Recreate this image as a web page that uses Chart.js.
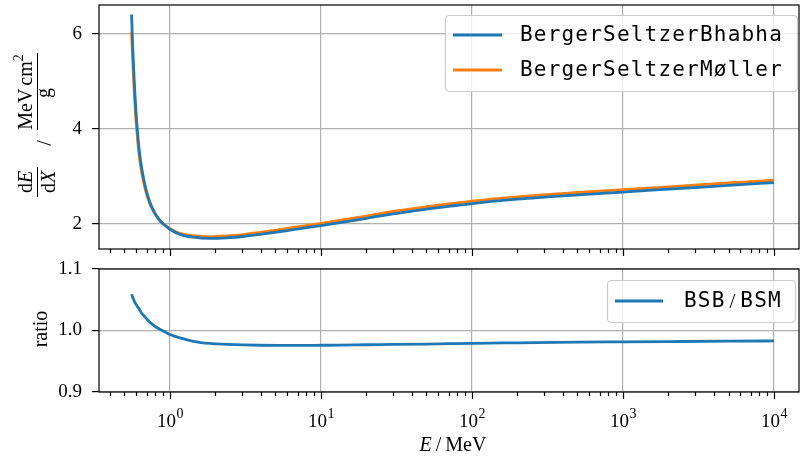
<!DOCTYPE html>
<html>
<head>
<meta charset="utf-8">
<script src="https://cdn.jsdelivr.net/npm/chart.js@4.4.1/dist/chart.umd.min.js"></script>
<style>
    html, body { margin: 0; padding: 0; background: #ffffff; }
    #wrap { position: relative; width: 800px; height: 464px; }
    #graficoTopo { position: absolute; left: 0; top: 0; }
    #graficoRazao { position: absolute; left: 0; top: 260px; }
</style>
</head>
<body>
<div id="wrap">
    <canvas id="graficoTopo" width="800" height="260"></canvas>
    <canvas id="graficoRazao" width="800" height="204"></canvas>
</div>
<script>
// energy in MeV, stopping power in MeV cm^2 / g
const energy = [0.557, 0.564, 0.571, 0.578, 0.585, 0.593, 0.602, 0.613, 0.625, 0.650, 0.69, 0.737, 0.80, 0.858, 0.93, 1.0, 1.165, 1.43, 1.84, 2.37, 3.06, 3.95, 5.09, 6.56, 10, 13.3, 20, 30, 50, 70, 100, 200, 500, 1000, 2000, 5000, 10000];
const bhabha = [6.41, 5.91, 5.49, 5.12, 4.79, 4.46, 4.16, 3.85, 3.57, 3.17, 2.76, 2.45, 2.21, 2.07, 1.965, 1.887, 1.778, 1.719, 1.694, 1.706, 1.733, 1.776, 1.825, 1.878, 1.962, 2.026, 2.115, 2.209, 2.308, 2.368, 2.428, 2.519, 2.609, 2.670, 2.730, 2.810, 2.870];
const moller = [6.05, 5.60, 5.22, 4.88, 4.58, 4.27, 4.00, 3.71, 3.45, 3.08, 2.70, 2.42, 2.20, 2.07, 1.97, 1.90, 1.80, 1.75, 1.73, 1.745, 1.775, 1.82, 1.87, 1.925, 2.01, 2.075, 2.165, 2.26, 2.36, 2.42, 2.48, 2.57, 2.66, 2.72, 2.78, 2.86, 2.92];
const ratio = [1.059, 1.0555, 1.052, 1.049, 1.046, 1.0435, 1.041, 1.038, 1.035, 1.028, 1.021, 1.0135, 1.0065, 1.002, 0.9975, 0.9934, 0.988, 0.9825, 0.979, 0.9775, 0.9765, 0.976, 0.9758, 0.9758, 0.976, 0.9762, 0.9768, 0.9773, 0.978, 0.9786, 0.9792, 0.980, 0.981, 0.9815, 0.982, 0.9826, 0.983];

const seriesLabels = ['BergerSeltzerBhabha', 'BergerSeltzerMøller'];
const ratioLabel = ['BSB', 'BSM'];
const xDecades = [1, 10, 100, 1000, 10000];
const xExponents = ['0', '1', '2', '3', '4'];
const yTicksTopo = [2, 4, 6];
const yTicksRazao = [0.9, 1.0, 1.1];

const azul = '#1f77b4';
const laranja = '#ff7f0e';
const grade = '#b0b0b0';
const serif = '"Liberation Serif", "DejaVu Serif", serif';
const mono = '"DejaVu Sans Mono", monospace';
const xMin = 0.339;
const xMax = 14650;

function pontos(ys) {
    return energy.map((e, i) => ({ x: e, y: ys[i] }));
}

function semPadding(s) {
    s.paddingTop = 0;
    s.paddingBottom = 0;
    s.paddingLeft = 0;
    s.paddingRight = 0;
}

function eixoX() {
    return {
        type: 'logarithmic',
        min: xMin,
        max: xMax,
        bounds: 'data',
        afterBuildTicks: (s) => {
            s.ticks = xDecades.map(v => ({ value: v }));
            s.min = xMin;
            s.max = xMax;
        },
        afterFit: (s) => { s.height = 0; semPadding(s); },
        ticks: { display: false },
        grid: { color: grade, lineWidth: 1.2, drawTicks: false },
        border: { display: false }
    };
}

function eixoY(min, max, ticks, fmt) {
    return {
        type: 'linear',
        min: min,
        max: max,
        afterBuildTicks: (s) => { s.ticks = ticks.map(v => ({ value: v })); },
        afterFit: (s) => { s.width = 99; semPadding(s); },
        ticks: {
            color: '#000',
            padding: 10,
            font: { family: serif, size: 19 },
            callback: fmt
        },
        grid: { color: grade, lineWidth: 1.2, tickLength: 7, tickColor: '#000', tickWidth: 1.2 },
        border: { display: false }
    };
}

// frame + x tick marks (minor ticks too)
const molduraPlugin = {
    id: 'moldura',
    afterDraw(chart) {
        const ctx = chart.ctx;
        const a = chart.chartArea;
        const x = chart.scales.x;
        ctx.save();
        ctx.strokeStyle = '#000';
        ctx.lineWidth = 1.2;
        ctx.beginPath();
        for (let d = -1; d <= 4; d++) {
            for (let k = 1; k <= 9; k++) {
                const v = k * Math.pow(10, d);
                if (v < xMin || v > xMax) continue;
                const px = Math.round(x.getPixelForValue(v)) + 0.5;
                ctx.moveTo(px, a.bottom);
                ctx.lineTo(px, a.bottom + (k === 1 ? 7 : 4));
            }
        }
        ctx.stroke();
        ctx.strokeRect(a.left, a.top, a.right - a.left, a.bottom - a.top);
        ctx.restore();
    }
};

function caixaLegenda(ctx, x0, y0, x1, y1) {
    ctx.save();
    ctx.beginPath();
    ctx.roundRect(x0 + 0.5, y0 + 0.5, x1 - x0, y1 - y0, 4);
    ctx.fillStyle = 'rgba(255,255,255,0.8)';
    ctx.fill();
    ctx.strokeStyle = '#cccccc';
    ctx.lineWidth = 1.2;
    ctx.stroke();
    ctx.restore();
}

function amostraLinha(ctx, x0, x1, y, cor) {
    ctx.save();
    ctx.strokeStyle = cor;
    ctx.lineWidth = 2.8;
    ctx.beginPath();
    ctx.moveTo(x0, y);
    ctx.lineTo(x1, y);
    ctx.stroke();
    ctx.restore();
}

const legendaTopoPlugin = {
    id: 'legendaTopo',
    afterDraw(chart) {
        const ctx = chart.ctx;
        caixaLegenda(ctx, 445, 15, 797, 91);
        ctx.save();
        ctx.font = '21px ' + mono;
        ctx.letterSpacing = '1.2px';
        ctx.fillStyle = '#000';
        ctx.textBaseline = 'middle';
        chart.data.datasets.forEach((ds, i) => {
            const y = 35 + i * 35;
            amostraLinha(ctx, 453, 502, y, ds.borderColor);
            ctx.fillText(ds.label, 520, y + 1);
        });
        ctx.restore();

        // y label: dE/dX / (MeV cm^2 / g)
        ctx.save();
        ctx.translate(37, 125);
        ctx.rotate(-Math.PI / 2);
        ctx.fillStyle = '#000';
        ctx.strokeStyle = '#000';
        ctx.lineWidth = 1;
        ctx.textBaseline = 'alphabetic';
        const f = '20px ' + serif;
        const fi = 'italic 20px ' + serif;

        function pedacos(partes, cx, y) {
            let w = 0;
            partes.forEach(p => { ctx.font = p[1]; w += ctx.measureText(p[0]).width + (p[2] || 0); });
            let x = cx - w / 2;
            partes.forEach(p => {
                ctx.font = p[1];
                ctx.fillText(p[0], x, y + (p[3] || 0));
                x += ctx.measureText(p[0]).width + (p[2] || 0);
            });
            return w;
        }

        pedacos([['d', f], ['E', fi]], -57, -5);
        pedacos([['d', f], ['X', fi]], -57, 18);
        ctx.beginPath();
        ctx.moveTo(-72, 0.5);
        ctx.lineTo(-42, 0.5);
        ctx.stroke();

        ctx.font = f;
        ctx.textAlign = 'center';
        ctx.fillText('/', -18, 14);
        ctx.textAlign = 'left';

        pedacos([['MeV', f, 3], ['cm', f], ['2', '14px ' + serif, 0, -9]], 33, -5);
        ctx.beginPath();
        ctx.moveTo(-5, 0.5);
        ctx.lineTo(72, 0.5);
        ctx.stroke();
        pedacos([['g', f]], 32, 13);
        ctx.restore();
    }
};

const legendaRazaoPlugin = {
    id: 'legendaRazao',
    afterDraw(chart) {
        const ctx = chart.ctx;
        const x = chart.scales.x;
        caixaLegenda(ctx, 607, 20, 795, 62);
        amostraLinha(ctx, 615, 663, 41, chart.data.datasets[0].borderColor);
        ctx.save();
        ctx.fillStyle = '#000';
        ctx.textBaseline = 'middle';
        ctx.font = '21px ' + mono;
        ctx.letterSpacing = '1.2px';
        let px = 684;
        ctx.fillText(ratioLabel[0], px, 42);
        px += ctx.measureText(ratioLabel[0]).width + 4;
        ctx.letterSpacing = '0px';
        ctx.font = '21px ' + serif;
        ctx.fillText('/', px, 42);
        px += ctx.measureText('/').width + 5;
        ctx.font = '21px ' + mono;
        ctx.letterSpacing = '1.2px';
        ctx.fillText(ratioLabel[1], px, 42);
        ctx.restore();

        // x tick labels 10^n
        ctx.save();
        ctx.fillStyle = '#000';
        ctx.textBaseline = 'alphabetic';
        xDecades.forEach((v, i) => {
            const cx = x.getPixelForValue(v);
            ctx.font = '19px ' + serif;
            const w1 = ctx.measureText('10').width;
            ctx.font = '14px ' + serif;
            const w2 = ctx.measureText(xExponents[i]).width;
            const x0 = cx - (w1 + w2) / 2;
            ctx.font = '19px ' + serif;
            ctx.fillText('10', x0, 167);
            ctx.font = '14px ' + serif;
            ctx.fillText(xExponents[i], x0 + w1 + 0.5, 158);
        });

        // x title E / MeV
        ctx.font = 'italic 20px ' + serif;
        const wE = ctx.measureText('E').width;
        ctx.font = '20px ' + serif;
        const wS = ctx.measureText('/').width;
        const wM = ctx.measureText('MeV').width;
        let tx = 453 - (wE + wS + wM + 8) / 2;
        ctx.font = 'italic 20px ' + serif;
        ctx.fillText('E', tx, 191);
        tx += wE + 4;
        ctx.font = '20px ' + serif;
        ctx.fillText('/', tx, 191);
        tx += wS + 4;
        ctx.fillText('MeV', tx, 191);

        // y title
        ctx.translate(47, 69);
        ctx.rotate(-Math.PI / 2);
        ctx.textAlign = 'center';
        ctx.fillText('ratio', 0, 0);
        ctx.restore();
    }
};

document.addEventListener('DOMContentLoaded', function () {
    const base = {
        responsive: false,
        animation: false,
        plugins: { legend: { display: false }, tooltip: { enabled: false } },
        elements: { point: { radius: 0 }, line: { cubicInterpolationMode: 'monotone' } }
    };

    new Chart(document.getElementById('graficoTopo').getContext('2d'), {
        type: 'line',
        data: {
            datasets: [
                { label: seriesLabels[0], data: pontos(bhabha), borderColor: azul, borderWidth: 2.8, fill: false },
                { label: seriesLabels[1], data: pontos(moller), borderColor: laranja, borderWidth: 2.8, fill: false }
            ]
        },
        options: Object.assign({}, base, {
            layout: { padding: { top: 5, right: 1, bottom: 11, left: 0 } },
            scales: {
                x: eixoX(),
                y: eixoY(1.47, 6.61, yTicksTopo, (v) => v)
            }
        }),
        plugins: [molduraPlugin, legendaTopoPlugin]
    });

    new Chart(document.getElementById('graficoRazao').getContext('2d'), {
        type: 'line',
        data: {
            datasets: [
                { label: ratioLabel.join(' / '), data: pontos(ratio), borderColor: azul, borderWidth: 2.8, fill: false }
            ]
        },
        options: Object.assign({}, base, {
            layout: { padding: { top: 9, right: 1, bottom: 72, left: 0 } },
            scales: {
                x: eixoX(),
                y: eixoY(0.9, 1.1, yTicksRazao, (v) => v.toFixed(1))
            }
        }),
        plugins: [molduraPlugin, legendaRazaoPlugin]
    });
});
</script>
</body>
</html>
